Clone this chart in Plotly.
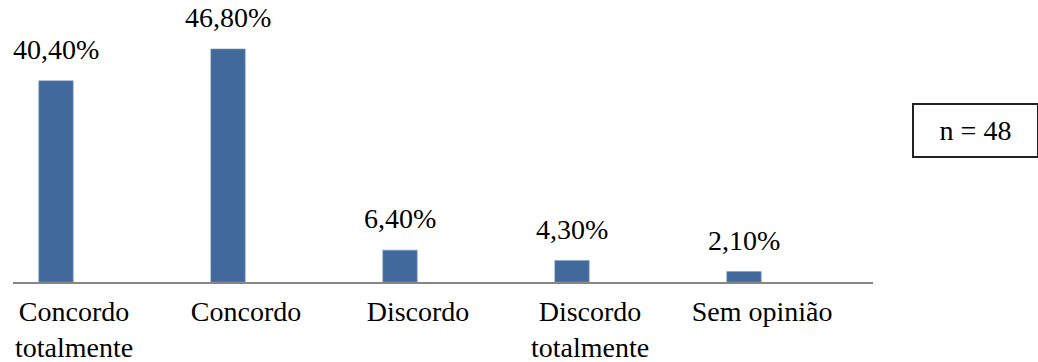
import plotly.graph_objects as go

# Survey response shares
categories = ["Concordo<br>totalmente", "Concordo", "Discordo", "Discordo<br>totalmente", "Sem opinião"]
values = [40.4, 46.8, 6.4, 4.3, 2.1]
sample_note = "n = 48"

FONT = "Liberation Serif, Times New Roman, serif"
BAR_COLOR = "#41699B"

labels = [f"{v:.2f}%".replace(".", ",") for v in values]

fig = go.Figure(
    go.Bar(
        x=categories,
        y=values,
        width=0.2,
        marker=dict(color=BAR_COLOR, line=dict(color="#7d9cc4", width=0.6)),
        hoverinfo="skip",
    )
)

# value labels above each bar
for cat, v, lab in zip(categories, values, labels):
    fig.add_annotation(
        x=cat, y=v, text=lab, showarrow=False,
        xanchor="center", yanchor="bottom", yshift=14,
        font=dict(family=FONT, size=28, color="black"),
    )

# sample size box
fig.add_annotation(
    xref="paper", yref="paper", x=1.0453, y=0.719,
    xanchor="left", yanchor="top", text=sample_note, showarrow=False,
    width=123, height=51, borderwidth=2, bordercolor="#222", borderpad=0,
    font=dict(family=FONT, size=28, color="black"),
)

fig.update_layout(
    width=1038, height=362,
    margin=dict(l=13, r=165, t=33, b=80, autoexpand=False),
    paper_bgcolor="white", plot_bgcolor="white",
    showlegend=False,
    font=dict(family=FONT, size=28, color="black"),
)
fig.update_xaxes(
    range=[-0.25, 4.75], automargin=False,
    showline=True, linecolor="#868686", linewidth=2,
    ticks="outside", ticklen=3, tickcolor="rgba(0,0,0,0)",
    ticklabelshift=18,
    tickfont=dict(family=FONT, size=28, color="black"),
    showgrid=False, zeroline=False,
)
fig.update_yaxes(range=[0, 50], visible=False, showgrid=False, zeroline=False)

fig.write_html("out.html")
